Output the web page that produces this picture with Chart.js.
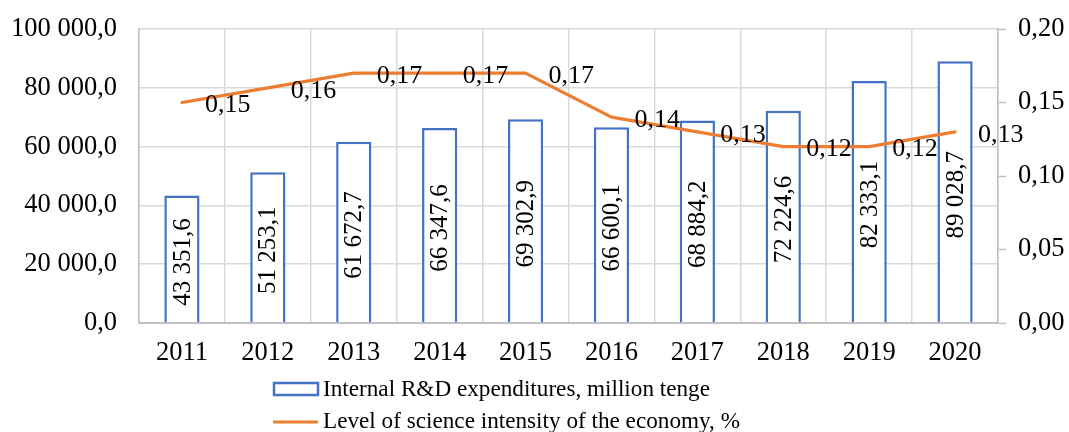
<!DOCTYPE html>
<html>
<head>
<meta charset="utf-8">
<script src="https://cdn.jsdelivr.net/npm/chart.js@4.4.0/dist/chart.umd.min.js"></script>
<style>
    html, body { margin: 0; padding: 0; background: #fff; }
    #wrap { width: 1069px; height: 432px; }
</style>
</head>
<body>
<div id="wrap"><canvas id="rdChart" width="1069" height="432"></canvas></div>
<script>
// ---------------------------------------
// R&D spending vs science intensity
// ---------------------------------------

const years = ['2011', '2012', '2013', '2014', '2015', '2016', '2017', '2018', '2019', '2020'];
const rdExpenditures = [43351.6, 51253.1, 61672.7, 66347.6, 69302.9, 66600.1, 68884.2, 72224.6, 82333.1, 89028.7];
const scienceIntensity = [0.15, 0.16, 0.17, 0.17, 0.17, 0.14, 0.13, 0.12, 0.12, 0.13];

const barLabel = 'Internal R&D expenditures, million tenge';
const lineLabel = 'Level of science intensity of the economy, %';

const FONT = '"Liberation Serif", "Times New Roman", serif';
const BLUE = '#4472C4';
const ORANGE = '#ED7D31';
const GRID = '#D9D9D9';
const AXIS = '#BFBFBF';

// 43351.6 -> "43 351,6"
function fmtThousands(v, digits) {
    const parts = v.toFixed(digits).split('.');
    const int = parts[0].replace(/\B(?=(\d{3})+(?!\d))/g, ' ');
    return parts[1] ? int + ',' + parts[1] : int;
}

function fmtComma(v, digits) {
    return v.toFixed(digits).replace('.', ',');
}

// Value labels: rotated inside bars, to the right of line points
const valueLabels = {
    id: 'valueLabels',
    afterDatasetsDraw(chart) {
        const ctx = chart.ctx;
        ctx.save();
        ctx.fillStyle = '#000';

        const bars = chart.getDatasetMeta(0);
        ctx.font = '25px ' + FONT;
        ctx.textAlign = 'center';
        ctx.textBaseline = 'middle';
        bars.data.forEach((bar, i) => {
            const cy = (bar.y + bar.base) / 2;
            ctx.save();
            ctx.translate(bar.x + 1, cy + 3);
            ctx.rotate(-Math.PI / 2);
            ctx.fillText(fmtThousands(rdExpenditures[i], 1), 0, 0);
            ctx.restore();
        });

        const line = chart.getDatasetMeta(1);
        ctx.font = '26px ' + FONT;
        ctx.textAlign = 'left';
        line.data.forEach((pt, i) => {
            ctx.fillText(fmtComma(scienceIntensity[i], 2), pt.x + 23, pt.y + 3);
        });
        ctx.restore();
    }
};

// Legend stacked in two rows under the axis
const stackedLegend = {
    id: 'stackedLegend',
    afterDraw(chart) {
        const ctx = chart.ctx;
        const x0 = 273;
        ctx.save();
        ctx.font = '23.2px ' + FONT;
        ctx.fillStyle = '#000';
        ctx.textBaseline = 'middle';

        ctx.strokeStyle = BLUE;
        ctx.lineWidth = 2.5;
        ctx.strokeRect(x0 + 1, 383, 44, 12);
        ctx.fillText(barLabel, x0 + 50, 390);

        ctx.strokeStyle = ORANGE;
        ctx.lineWidth = 3;
        ctx.beginPath();
        ctx.moveTo(x0, 422);
        ctx.lineTo(x0 + 45, 422);
        ctx.stroke();
        ctx.fillText(lineLabel, x0 + 50, 422);
        ctx.restore();
    }
};

const ctx = document.getElementById('rdChart');

new Chart(ctx, {
    type: 'bar',
    data: {
        labels: years,
        datasets: [{
            type: 'bar',
            label: barLabel,
            data: rdExpenditures,
            yAxisID: 'y',
            backgroundColor: '#ffffff',
            borderColor: BLUE,
            borderWidth: 2.5,
            barPercentage: 0.41,
            categoryPercentage: 1,
            order: 1
        }, {
            type: 'line',
            label: lineLabel,
            data: scienceIntensity,
            yAxisID: 'y1',
            borderColor: ORANGE,
            borderWidth: 3.2,
            borderJoinStyle: 'round',
            borderCapStyle: 'round',
            pointRadius: 0,
            tension: 0,
            fill: false,
            order: 0
        }]
    },
    options: {
        responsive: false,
        animation: false,
        layout: { autoPadding: false, padding: { top: 29, bottom: 64, left: 0, right: 0 } },
        plugins: {
            legend: { display: false },
            tooltip: { enabled: false }
        },
        scales: {
            x: {
                grid: { color: GRID, lineWidth: 1.5, offset: true, drawTicks: false },
                border: { color: AXIS, width: 2 },
                ticks: {
                    color: '#000',
                    font: { family: FONT, size: 26.5 },
                    padding: 14,
                    maxRotation: 0
                },
                afterFit(scale) { scale.height = 45; }
            },
            y: {
                position: 'left',
                min: 0,
                max: 100000,
                // invisible tick marks give the gap before the labels
                grid: { color: GRID, lineWidth: 1.5, drawTicks: true, tickLength: 22, tickColor: 'rgba(0,0,0,0)' },
                border: { color: AXIS, width: 1.5 },
                ticks: {
                    stepSize: 20000,
                    color: '#000',
                    padding: 0,
                    font: { family: FONT, size: 26.5, lineHeight: 1 },
                    callback: v => fmtThousands(v, 1)
                },
                afterFit(scale) { scale.width = 139; }
            },
            y1: {
                position: 'right',
                min: 0,
                max: 0.2,
                grid: { drawOnChartArea: false, color: AXIS, tickLength: 8, tickWidth: 1.5, tickColor: AXIS },
                border: { color: AXIS, width: 1.5 },
                ticks: {
                    stepSize: 0.05,
                    color: '#000',
                    padding: 12,
                    font: { family: FONT, size: 26.5, lineHeight: 1 },
                    callback: v => fmtComma(v, 2)
                },
                afterFit(scale) { scale.width = 71; }
            }
        }
    },
    plugins: [valueLabels, stackedLegend]
});
</script>
</body>
</html>
